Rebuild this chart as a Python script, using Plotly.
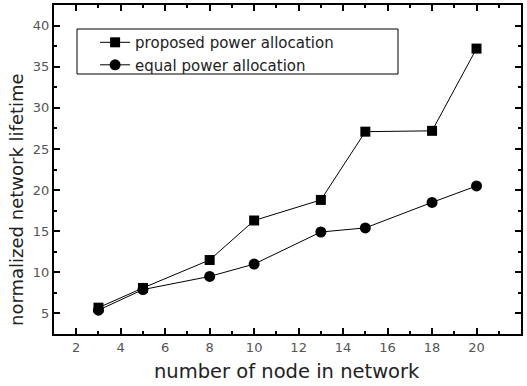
import plotly.graph_objects as go

nodes = [3, 5, 8, 10, 13, 15, 18, 20]
proposed = [5.7, 8.1, 11.5, 16.3, 18.8, 27.1, 27.2, 37.2]
equal = [5.4, 7.9, 9.5, 11.0, 14.9, 15.4, 18.5, 20.5]

x_ticks = [2, 4, 6, 8, 10, 12, 14, 16, 18, 20, 22]
y_ticks = [5, 10, 15, 20, 25, 30, 35, 40]

x_title = "number of node in network"
y_title = "normalized network lifetime"

FONT = "DejaVu Sans, Verdana, sans-serif"

fig = go.Figure()
fig.add_trace(go.Scatter(
    x=nodes, y=proposed, mode="lines+markers", name="proposed power allocation",
    line=dict(color="black", width=1),
    marker=dict(symbol="square", size=10, color="black"),
))
fig.add_trace(go.Scatter(
    x=nodes, y=equal, mode="lines+markers", name="equal power allocation",
    line=dict(color="black", width=1),
    marker=dict(symbol="circle", size=11, color="black"),
))

axis_common = dict(
    showline=True, linecolor="black", linewidth=2, mirror="ticks",
    ticks="inside", ticklen=6, tickwidth=1.5, tickcolor="black",
    showgrid=False, zeroline=False, automargin=False,
    tickfont=dict(family=FONT, size=13, color="#555"),
)

fig.update_layout(
    width=527, height=386,
    margin=dict(l=54, r=6, t=5, b=52),
    paper_bgcolor="white", plot_bgcolor="white",
    font=dict(family=FONT, color="black"),
    xaxis=dict(
        range=[1, 22], tickvals=x_ticks,
        minor=dict(ticks="inside", ticklen=3, dtick=1, tickcolor="black"),
        **axis_common,
    ),
    yaxis=dict(
        range=[2.5, 42.5], tickvals=y_ticks,
        minor=dict(ticks="inside", ticklen=3, dtick=2.5, tickcolor="black"),
        **axis_common,
    ),
    legend=dict(
        x=0.088, y=0.936, xanchor="left", yanchor="top",
        borderwidth=0, bgcolor="rgba(0,0,0,0)",
        font=dict(size=15, color="#222"), tracegroupgap=0,
    ),
    shapes=[dict(
        type="rect", xref="paper", yref="paper",
        x0=(77 - 54) / 467, x1=(398 - 54) / 467,
        y0=(334 - 74) / 329, y1=(334 - 29) / 329,
        line=dict(color="black", width=1), fillcolor="white", layer="below",
    )],
    annotations=[
        dict(text=x_title, xref="paper", yref="paper", x=(287 - 54) / 467,
             y=(334 - 385) / 329, xanchor="center", yanchor="bottom",
             showarrow=False, font=dict(size=19.5, color="#222")),
        dict(text=y_title, xref="paper", yref="paper", x=(16 - 54) / 467,
             y=(334 - 200) / 329, xanchor="center", yanchor="middle",
             textangle=-90, showarrow=False, font=dict(size=18, color="#222")),
    ],
)

fig.write_html(
    "out.html",
    config={"displayModeBar": False},
    post_script="document.body.style.margin='0';document.body.style.overflow='hidden';",
)
